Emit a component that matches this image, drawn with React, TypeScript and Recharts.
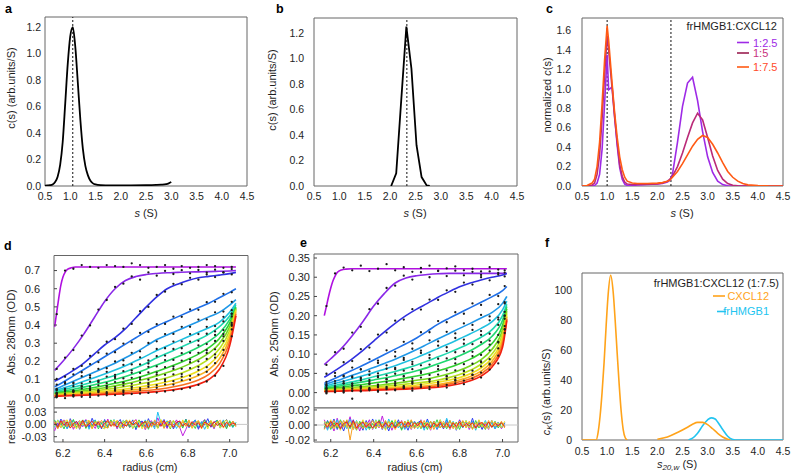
import { ComposedChart, Line, Scatter, XAxis, YAxis, ReferenceArea, ReferenceLine } from "recharts";

const FONT = "'Liberation Sans', Arial, Helvetica, sans-serif";
const INK = "#1e1e1e";
const FRAME = "#666666";

const S_TICKS = [0.5, 1, 1.5, 2, 2.5, 3, 3.5, 4, 4.5];
const RADIUS_TICKS = [6.2, 6.4, 6.6, 6.8, 7.0];

// ---- a: CXCL12 c(s) ----
const A_S = [0.5, 0.55, 0.6, 0.65, 0.7, 0.75, 0.8, 0.85, 0.9, 0.95, 1.0, 1.05, 1.1, 1.15, 1.2, 1.25, 1.3, 1.35, 1.4, 1.45, 1.5, 1.6, 1.8, 2.0, 2.2, 2.5, 2.7, 2.8, 2.9, 2.95, 3.0];
const A_C = [0.003, 0.004, 0.006, 0.012, 0.03, 0.07, 0.16, 0.33, 0.62, 0.92, 1.13, 1.2, 1.05, 0.78, 0.5, 0.28, 0.15, 0.08, 0.04, 0.02, 0.012, 0.007, 0.005, 0.005, 0.005, 0.006, 0.008, 0.01, 0.014, 0.02, 0.03];
const A_PEAK = 1.05;

// ---- b: frHMGB1 c(s) ----
const B_S = [2.02, 2.12, 2.22, 2.32, 2.42, 2.52, 2.62, 2.72, 2.78];
const B_C = [0, 0.1, 0.68, 1.25, 0.92, 0.32, 0.07, 0.005, 0];
const B_PEAK = 2.33;

// ---- c: mixtures, normalized c(s) ----
const C_S = [0.5, 0.6, 0.7, 0.75, 0.8, 0.85, 0.9, 0.95, 1.0, 1.03, 1.1, 1.15, 1.2, 1.25, 1.3, 1.35, 1.4, 1.5, 1.6, 1.8, 2.0, 2.1, 2.2, 2.25, 2.3, 2.4, 2.5, 2.6, 2.7, 2.8, 2.9, 3.0, 3.1, 3.2, 3.3, 3.4, 3.5, 3.6, 3.7, 3.8, 4.0, 4.2, 4.5];
const C_1_25 = [0, 0, 0, 0.005, 0.03, 0.12, 0.38, 0.85, 1.35, 0.99, 1.02, 0.72, 0.42, 0.19, 0.07, 0.02, 0.005, 0.005, 0.01, 0.015, 0.02, 0.025, 0.04, 0.06, 0.12, 0.45, 0.82, 1.06, 1.12, 0.88, 0.56, 0.3, 0.14, 0.05, 0.015, 0.003, 0, 0, 0, 0, 0, 0, 0];
const C_1_5 = [0, 0, 0.01, 0.03, 0.12, 0.32, 0.7, 1.15, 1.55, 1.4, 1.0, 0.7, 0.45, 0.22, 0.1, 0.04, 0.02, 0.015, 0.015, 0.018, 0.022, 0.03, 0.05, 0.07, 0.1, 0.2, 0.34, 0.5, 0.65, 0.75, 0.68, 0.5, 0.31, 0.16, 0.07, 0.025, 0.008, 0.002, 0, 0, 0, 0, 0];
const C_1_75 = [0, 0.005, 0.03, 0.07, 0.2, 0.45, 0.85, 1.3, 1.65, 1.5, 1.05, 0.75, 0.5, 0.3, 0.17, 0.09, 0.05, 0.03, 0.025, 0.025, 0.03, 0.035, 0.05, 0.06, 0.09, 0.15, 0.23, 0.32, 0.41, 0.48, 0.52, 0.5, 0.43, 0.34, 0.24, 0.15, 0.09, 0.05, 0.025, 0.012, 0.004, 0.001, 0];
const C_MARKS = [1.0, 2.27];

// ---- f: multi-signal ck(s) ----
const F_CX_S = [0.5, 0.78, 0.82, 0.86, 0.9, 0.94, 0.98, 1.02, 1.07, 1.12, 1.16, 1.2, 1.24, 1.28, 1.32, 1.36, 1.4, 1.7, 2.0, 2.2, 2.4, 2.6, 2.7, 2.8, 2.9, 3.0, 3.1, 3.2, 3.3, 3.4, 3.45];
const F_CX_V = [0, 0, 5, 16, 32, 52, 76, 97, 110, 99, 80, 58, 37, 19, 7, 1.5, 0, null, 0.5, 2, 5, 8.5, 10.5, 11.8, 11.8, 10.3, 7.5, 4.5, 2, 0.5, 0];
const F_HM_S = [2.62, 2.7, 2.8, 2.9, 3.0, 3.07, 3.15, 3.2, 3.3, 3.4, 3.5, 3.55, 4.5];
const F_HM_V = [0, 1.2, 4.5, 9.5, 13.5, 14.8, 14, 12, 7, 2.5, 0.3, 0, 0];

// ---- d: 280 nm boundaries ----
const RAINBOW = ["#B010E0", "#8A28E8", "#3030E0", "#2070E8", "#2098E8", "#20C0E0", "#20D8B0", "#20D870", "#30D030", "#78D820", "#B8E020", "#F0E020", "#F8B020", "#F87020", "#F02010"];
const D_R_FAST = [6.16, 6.17, 6.18, 6.19, 6.2, 6.21, 6.22, 6.24, 6.26, 6.3, 6.4, 6.5, 6.6, 6.7, 6.8, 6.9, 7.0, 7.03];
const D_R = [6.16, 6.2, 6.25, 6.3, 6.35, 6.4, 6.45, 6.5, 6.55, 6.6, 6.65, 6.7, 6.75, 6.8, 6.85, 6.9, 6.95, 7.0, 7.03];
const D280_1 = [0.39, 0.47, 0.55, 0.62, 0.665, 0.69, 0.705, 0.715, 0.72, 0.72, 0.72, 0.72, 0.72, 0.72, 0.72, 0.72, 0.72, 0.72];
const D280_2 = [0.15, 0.2, 0.27, 0.35, 0.44, 0.53, 0.6, 0.645, 0.667, 0.678, 0.684, 0.688, 0.69, 0.692, 0.693, 0.694, 0.696, 0.698, 0.7];
const D280_3 = [0.09, 0.115, 0.15, 0.19, 0.24, 0.29, 0.33, 0.38, 0.44, 0.5, 0.555, 0.6, 0.625, 0.645, 0.66, 0.668, 0.675, 0.683, 0.69];
const D280_4 = [0.06, 0.085, 0.12, 0.155, 0.19, 0.225, 0.26, 0.295, 0.33, 0.365, 0.395, 0.42, 0.445, 0.47, 0.495, 0.52, 0.55, 0.58, 0.6];
const D280_5 = [0.045, 0.065, 0.09, 0.115, 0.14, 0.165, 0.19, 0.22, 0.25, 0.285, 0.32, 0.345, 0.37, 0.395, 0.42, 0.445, 0.47, 0.51, 0.54];
const D280_6 = [0.038, 0.052, 0.07, 0.09, 0.11, 0.13, 0.152, 0.176, 0.203, 0.23, 0.26, 0.285, 0.31, 0.335, 0.36, 0.385, 0.415, 0.47, 0.52];
const D280_7 = [0.032, 0.043, 0.057, 0.072, 0.088, 0.105, 0.123, 0.143, 0.165, 0.19, 0.22, 0.245, 0.27, 0.295, 0.32, 0.35, 0.39, 0.45, 0.51];
const D280_8 = [0.027, 0.035, 0.046, 0.058, 0.071, 0.085, 0.1, 0.117, 0.136, 0.157, 0.18, 0.202, 0.225, 0.25, 0.278, 0.31, 0.355, 0.43, 0.5];
const D280_9 = [0.023, 0.029, 0.037, 0.046, 0.056, 0.067, 0.079, 0.092, 0.107, 0.125, 0.145, 0.165, 0.187, 0.212, 0.24, 0.275, 0.325, 0.41, 0.495];
const D280_10 = [0.02, 0.025, 0.031, 0.038, 0.046, 0.055, 0.065, 0.076, 0.089, 0.104, 0.12, 0.138, 0.158, 0.182, 0.21, 0.245, 0.297, 0.39, 0.49];
const D280_11 = [0.017, 0.021, 0.026, 0.031, 0.037, 0.044, 0.052, 0.061, 0.071, 0.082, 0.095, 0.11, 0.128, 0.15, 0.177, 0.213, 0.268, 0.37, 0.485];
const D280_12 = [0.014, 0.017, 0.021, 0.025, 0.03, 0.035, 0.041, 0.048, 0.056, 0.065, 0.075, 0.088, 0.103, 0.122, 0.147, 0.182, 0.24, 0.35, 0.48];
const D280_13 = [0.012, 0.014, 0.017, 0.02, 0.024, 0.028, 0.033, 0.038, 0.044, 0.051, 0.06, 0.07, 0.083, 0.1, 0.122, 0.155, 0.212, 0.33, 0.47];
const D280_14 = [0.01, 0.012, 0.014, 0.016, 0.019, 0.022, 0.025, 0.029, 0.034, 0.039, 0.045, 0.053, 0.064, 0.078, 0.097, 0.128, 0.185, 0.31, 0.46];
const D280_15 = [0.008, 0.009, 0.011, 0.013, 0.015, 0.017, 0.019, 0.022, 0.025, 0.029, 0.033, 0.039, 0.047, 0.058, 0.074, 0.1, 0.155, 0.285, 0.45];

const D_DOT_R = [6.17, 6.21, 6.25, 6.29, 6.33, 6.37, 6.41, 6.45, 6.49, 6.53, 6.57, 6.61, 6.65, 6.69, 6.73, 6.77, 6.81, 6.85, 6.89, 6.93, 6.97, 7.01];
const D280_OBS_1 = [0.46, 0.7, 0.71, 0.73, 0.72, 0.715, 0.73, 0.725, 0.72, 0.74, 0.73, 0.715, 0.72, 0.73, 0.71, 0.725, 0.715, 0.72, 0.73, 0.725, 0.715, 0.72];
const D280_OBS_2 = [0.158, 0.22, 0.262, 0.342, 0.398, 0.485, 0.538, 0.61, 0.628, 0.668, 0.65, 0.69, 0.672, 0.698, 0.681, 0.702, 0.685, 0.703, 0.688, 0.705, 0.69, 0.708];
const D280_OBS_3 = [0.103, 0.115, 0.158, 0.175, 0.23, 0.248, 0.308, 0.322, 0.38, 0.406, 0.476, 0.5, 0.566, 0.584, 0.627, 0.624, 0.66, 0.65, 0.678, 0.664, 0.69, 0.679];
const D280_OBS_4 = [0.072, 0.085, 0.128, 0.14, 0.185, 0.196, 0.242, 0.25, 0.298, 0.305, 0.356, 0.362, 0.405, 0.406, 0.446, 0.445, 0.486, 0.484, 0.526, 0.528, 0.572, 0.58];
const D280_OBS_5 = [0.044, 0.077, 0.083, 0.118, 0.122, 0.158, 0.162, 0.199, 0.205, 0.247, 0.255, 0.301, 0.31, 0.35, 0.351, 0.39, 0.39, 0.43, 0.431, 0.47, 0.474, 0.528];
const D280_OBS_6 = [0.048, 0.049, 0.078, 0.079, 0.11, 0.094, 0.142, 0.126, 0.18, 0.183, 0.222, 0.205, 0.268, 0.272, 0.309, 0.31, 0.35, 0.35, 0.39, 0.394, 0.445, 0.482];
const D280_OBS_7 = [0.041, 0.039, 0.063, 0.062, 0.088, 0.089, 0.116, 0.115, 0.146, 0.15, 0.183, 0.188, 0.228, 0.232, 0.268, 0.272, 0.309, 0.313, 0.352, 0.365, 0.42, 0.462];
const D280_OBS_8 = [0.022, 0.043, 0.04, 0.063, 0.06, 0.085, 0.08, 0.108, 0.106, 0.137, 0.136, 0.17, 0.172, 0.207, 0.208, 0.245, 0.247, 0.288, 0.295, 0.345, 0.372, 0.463];
const D280_OBS_9 = [0.018, 0.036, 0.031, 0.05, 0.046, 0.068, 0.064, 0.086, 0.083, 0.109, 0.11, 0.139, 0.138, 0.168, 0.171, 0.204, 0.21, 0.247, 0.261, 0.312, 0.35, 0.447];
const D280_OBS_10 = [0.027, 0.019, 0.037, 0.03, 0.05, 0.042, 0.064, 0.058, 0.081, 0.076, 0.101, 0.099, 0.127, 0.126, 0.158, 0.159, 0.195, 0.2, 0.246, 0.266, 0.338, 0.412];
const D280_OBS_11 = [0.023, 0.016, 0.032, 0.025, 0.041, 0.034, 0.052, 0.046, 0.066, 0.061, 0.083, 0.08, 0.102, 0.1, 0.128, 0.13, 0.163, 0.17, 0.213, 0.238, 0.312, 0.404];
const D280_OBS_12 = [0.009, 0.024, 0.015, 0.03, 0.022, 0.038, 0.03, 0.047, 0.04, 0.058, 0.053, 0.073, 0.069, 0.091, 0.091, 0.116, 0.12, 0.153, 0.168, 0.22, 0.263, 0.396];
const D280_OBS_13 = [0.006, 0.019, 0.011, 0.024, 0.016, 0.03, 0.023, 0.038, 0.031, 0.047, 0.042, 0.06, 0.054, 0.073, 0.072, 0.096, 0.098, 0.127, 0.142, 0.19, 0.233, 0.376];
const D280_OBS_15 = [0.002, -0.003, 0.006, 0.005, 0.003, 0.011, 0.013, 0.014, 0.016, 0.02, 0.022, 0.026, 0.028, 0.034, 0.039, 0.047, 0.055, 0.07, 0.089, 0.12, 0.175, 0.338];

const RES_COLORS = ["#C020E0", "#3040F0", "#20C0F0", "#30D040", "#E8E020", "#F8A020", "#F02020"];
const D_RES_R = [6.16, 6.175, 6.19, 6.205, 6.22, 6.235, 6.25, 6.265, 6.28, 6.295, 6.31, 6.325, 6.34, 6.355, 6.37, 6.385, 6.4, 6.415, 6.43, 6.445, 6.46, 6.475, 6.49, 6.505, 6.52, 6.535, 6.55, 6.565, 6.58, 6.595, 6.61, 6.625, 6.64, 6.655, 6.67, 6.685, 6.7, 6.715, 6.73, 6.745, 6.76, 6.775, 6.79, 6.805, 6.82, 6.835, 6.85, 6.865, 6.88, 6.895, 6.91, 6.925, 6.94, 6.955, 6.97, 6.985, 7.0, 7.015, 7.03];
const D_RES_MAGENTA = [-0.016, 0.004, -0.008, 0.011, -0.003, 0.007, -0.012, 0.002, 0.009, -0.006, 0.012, -0.004, 0.001, -0.01, 0.008, 0.003, -0.007, 0.013, -0.002, 0.006, -0.011, 0.005, -0.004, 0.01, -0.008, 0.002, 0.012, -0.005, 0.007, -0.013, 0.004, 0.009, -0.006, 0.016, -0.003, 0.005, -0.01, 0.008, -0.002, 0.011, -0.007, -0.028, -0.012, 0.006, -0.004, 0.009, -0.009, 0.003, 0.012, -0.006, 0.004, -0.011, 0.008, -0.003, 0.01, -0.008, 0.005, -0.005, 0.002];
const D_RES_BLUE = [0.009, -0.005, 0.013, 0.002, -0.01, 0.014, -0.003, 0.008, -0.012, 0.005, 0.01, -0.008, 0.015, -0.002, 0.007, -0.011, 0.012, -0.006, 0.009, -0.004, 0.003, 0.012, -0.01, 0.006, -0.003, 0.011, -0.013, 0.005, 0.008, -0.006, 0.014, -0.004, 0.007, -0.009, 0.002, 0.012, -0.007, 0.01, -0.011, 0.004, 0.008, -0.005, 0.013, -0.008, 0.003, 0.011, -0.012, 0.006, -0.002, 0.014, -0.007, 0.005, 0.01, -0.009, 0.004, 0.012, -0.006, 0.008, -0.003];
const D_RES_CYAN = [-0.007, 0.011, -0.002, 0.008, -0.011, 0.003, 0.01, -0.008, 0.006, -0.003, 0.009, -0.012, 0.005, 0.011, -0.006, 0.004, -0.009, 0.007, -0.004, 0.012, -0.008, 0.003, 0.01, -0.005, 0.007, -0.01, 0.002, 0.009, -0.006, 0.011, -0.003, 0.006, -0.011, 0.03, 0.004, -0.007, 0.009, -0.002, 0.008, -0.01, 0.005, -0.004, 0.011, -0.008, 0.003, 0.01, -0.006, 0.007, -0.012, 0.004, 0.009, -0.005, 0.006, -0.009, 0.011, -0.003, 0.007, -0.008, 0.005];
const D_RES_GREEN = [0.011, -0.009, 0.005, -0.011, 0.008, -0.003, 0.012, -0.007, 0.002, 0.011, -0.01, 0.006, -0.005, 0.009, -0.011, 0.004, 0.008, -0.009, 0.011, -0.003, 0.007, -0.01, 0.005, 0.01, -0.007, 0.003, -0.009, 0.011, -0.005, 0.008, -0.012, 0.006, 0.002, -0.008, 0.01, -0.004, 0.007, -0.011, 0.009, -0.002, 0.006, -0.009, 0.012, -0.005, 0.004, -0.01, 0.008, -0.003, 0.011, -0.007, 0.005, -0.008, 0.01, -0.004, 0.007, -0.011, 0.009, -0.006, 0.004];
const D_RES_YELLOW = [-0.003, 0.01, -0.008, 0.006, 0.011, -0.009, 0.004, -0.011, 0.009, -0.002, 0.007, 0.01, -0.009, 0.003, 0.008, -0.007, -0.011, 0.01, -0.004, 0.011, 0.002, -0.008, 0.009, -0.005, 0.011, -0.01, 0.004, 0.008, -0.011, 0.005, 0.009, -0.006, 0.003, -0.01, 0.012, -0.004, 0.006, -0.009, 0.01, -0.002, -0.007, 0.011, -0.005, 0.008, -0.01, 0.004, 0.009, -0.008, 0.006, -0.011, 0.01, -0.003, 0.007, -0.009, 0.005, 0.011, -0.006, 0.008, -0.004];
const D_RES_ORANGE = [0.007, -0.011, 0.003, 0.009, -0.006, 0.011, -0.008, 0.001, -0.01, 0.008, -0.004, 0.009, -0.011, 0.007, -0.002, 0.01, -0.006, -0.009, 0.008, -0.005, 0.01, -0.003, -0.009, 0.011, -0.001, 0.007, 0.01, -0.008, 0.004, -0.01, 0.006, -0.007, 0.011, -0.003, 0.008, -0.01, 0.005, 0.009, -0.006, 0.002, -0.009, 0.007, -0.004, 0.011, -0.008, 0.003, 0.009, -0.011, 0.006, -0.002, 0.008, -0.007, 0.004, 0.01, -0.009, 0.005, -0.003, 0.008, -0.006];
const D_RES_RED = [0.004, -0.007, 0.009, -0.003, 0.006, -0.009, 0.002, 0.007, -0.005, 0.01, -0.006, 0.001, 0.008, -0.004, 0.005, -0.008, 0.003, 0.009, -0.005, 0.002, -0.007, 0.006, 0.0, -0.004, 0.008, -0.002, 0.005, -0.006, 0.003, 0.007, -0.008, 0.004, -0.001, 0.006, -0.005, 0.009, -0.003, 0.002, -0.007, 0.005, 0.008, -0.004, 0.003, -0.006, 0.007, -0.002, 0.004, -0.008, 0.006, 0.001, -0.005, 0.007, -0.003, 0.004, -0.006, 0.005, -0.002, 0.003, 0.0];

// ---- e: 250 nm boundaries ----
const E_R_FAST = [6.17, 6.18, 6.19, 6.2, 6.21, 6.22, 6.23, 6.25, 6.27, 6.3, 6.4, 6.5, 6.6, 6.7, 6.8, 6.9, 7.0, 7.02];
const E_R = [6.17, 6.2, 6.25, 6.3, 6.35, 6.4, 6.45, 6.5, 6.55, 6.6, 6.65, 6.7, 6.75, 6.8, 6.85, 6.9, 6.95, 7.0, 7.02];
const E250_1 = [0.2, 0.225, 0.25, 0.272, 0.29, 0.303, 0.312, 0.319, 0.321, 0.322, 0.322, 0.322, 0.322, 0.322, 0.322, 0.322, 0.322, 0.322];
const E250_2 = [0.073, 0.088, 0.115, 0.148, 0.185, 0.225, 0.258, 0.285, 0.298, 0.304, 0.307, 0.309, 0.31, 0.31, 0.31, 0.31, 0.31, 0.31, 0.31];
const E250_3 = [0.04, 0.05, 0.068, 0.088, 0.11, 0.134, 0.158, 0.18, 0.2, 0.217, 0.232, 0.248, 0.262, 0.275, 0.285, 0.293, 0.3, 0.306, 0.31];
const E250_4 = [0.024, 0.032, 0.045, 0.058, 0.071, 0.085, 0.099, 0.113, 0.127, 0.142, 0.16, 0.178, 0.193, 0.207, 0.221, 0.235, 0.249, 0.265, 0.276];
const E250_5 = [0.02, 0.026, 0.035, 0.045, 0.055, 0.065, 0.076, 0.087, 0.099, 0.112, 0.126, 0.14, 0.153, 0.167, 0.18, 0.194, 0.208, 0.232, 0.25];
const E250_6 = [0.016, 0.021, 0.028, 0.036, 0.044, 0.052, 0.061, 0.07, 0.08, 0.091, 0.103, 0.115, 0.127, 0.14, 0.153, 0.167, 0.184, 0.215, 0.238];
const E250_7 = [0.013, 0.017, 0.022, 0.028, 0.034, 0.041, 0.048, 0.055, 0.063, 0.072, 0.082, 0.093, 0.104, 0.116, 0.129, 0.144, 0.163, 0.2, 0.23];
const E250_8 = [0.011, 0.014, 0.018, 0.023, 0.028, 0.033, 0.038, 0.044, 0.05, 0.057, 0.065, 0.075, 0.085, 0.096, 0.109, 0.125, 0.146, 0.188, 0.224];
const E250_9 = [0.009, 0.011, 0.014, 0.018, 0.021, 0.025, 0.029, 0.033, 0.038, 0.043, 0.049, 0.056, 0.065, 0.075, 0.087, 0.103, 0.127, 0.175, 0.218];
const E250_10 = [0.007, 0.009, 0.011, 0.013, 0.016, 0.018, 0.021, 0.024, 0.028, 0.032, 0.036, 0.042, 0.049, 0.058, 0.07, 0.086, 0.112, 0.164, 0.212];
const E250_11 = [0.006, 0.007, 0.009, 0.011, 0.013, 0.015, 0.017, 0.019, 0.022, 0.025, 0.028, 0.033, 0.039, 0.047, 0.058, 0.074, 0.1, 0.154, 0.206];
const E250_12 = [0.005, 0.006, 0.007, 0.009, 0.01, 0.012, 0.013, 0.015, 0.017, 0.02, 0.023, 0.027, 0.032, 0.039, 0.049, 0.064, 0.09, 0.145, 0.2];
const E250_13 = [0.004, 0.005, 0.006, 0.007, 0.008, 0.009, 0.011, 0.012, 0.014, 0.016, 0.018, 0.021, 0.026, 0.033, 0.042, 0.056, 0.081, 0.136, 0.196];
const E250_14 = [0.003, 0.004, 0.005, 0.006, 0.007, 0.008, 0.009, 0.01, 0.011, 0.013, 0.015, 0.018, 0.022, 0.028, 0.036, 0.049, 0.073, 0.127, 0.192];
const E250_15 = [0.003, 0.003, 0.004, 0.005, 0.005, 0.006, 0.007, 0.008, 0.009, 0.01, 0.012, 0.014, 0.018, 0.023, 0.031, 0.043, 0.066, 0.118, 0.188];

const E_DOT_R = [6.18, 6.22, 6.26, 6.3, 6.34, 6.38, 6.42, 6.46, 6.5, 6.54, 6.58, 6.62, 6.66, 6.7, 6.74, 6.78, 6.82, 6.86, 6.9, 6.94, 6.98, 7.01];
const E250_OBS_1 = [0.225, 0.31, 0.325, 0.318, 0.33, 0.316, 0.322, 0.334, 0.318, 0.326, 0.314, 0.324, 0.33, 0.317, 0.323, 0.328, 0.318, 0.322, 0.315, 0.326, 0.32, 0.318];
const E250_OBS_2 = [0.072, 0.105, 0.114, 0.156, 0.171, 0.217, 0.231, 0.272, 0.278, 0.304, 0.294, 0.313, 0.3, 0.316, 0.303, 0.317, 0.305, 0.314, 0.306, 0.315, 0.307, 0.312];
const E250_OBS_3 = [0.049, 0.051, 0.079, 0.082, 0.113, 0.117, 0.151, 0.156, 0.187, 0.19, 0.217, 0.216, 0.242, 0.241, 0.266, 0.262, 0.286, 0.281, 0.3, 0.292, 0.311, 0.302];
const E250_OBS_4 = [0.022, 0.043, 0.042, 0.065, 0.061, 0.087, 0.083, 0.11, 0.106, 0.132, 0.128, 0.157, 0.157, 0.186, 0.183, 0.209, 0.205, 0.232, 0.228, 0.254, 0.251, 0.277];
const E250_OBS_5 = [0.028, 0.024, 0.044, 0.039, 0.06, 0.046, 0.077, 0.071, 0.094, 0.09, 0.114, 0.109, 0.136, 0.133, 0.158, 0.154, 0.18, 0.176, 0.202, 0.198, 0.23, 0.235];
const E250_OBS_6 = [0.012, 0.03, 0.024, 0.042, 0.036, 0.055, 0.043, 0.062, 0.064, 0.085, 0.08, 0.103, 0.098, 0.122, 0.118, 0.142, 0.138, 0.163, 0.16, 0.188, 0.195, 0.232];
const E250_OBS_7 = [0.019, 0.014, 0.029, 0.023, 0.039, 0.033, 0.05, 0.045, 0.061, 0.057, 0.074, 0.071, 0.09, 0.088, 0.108, 0.105, 0.127, 0.126, 0.15, 0.153, 0.19, 0.21];
const E250_OBS_8 = [0.017, 0.01, 0.024, 0.017, 0.032, 0.024, 0.04, 0.035, 0.049, 0.043, 0.061, 0.055, 0.073, 0.069, 0.089, 0.087, 0.107, 0.106, 0.131, 0.135, 0.176, 0.2];
const E250_OBS_9 = [0.005, 0.017, 0.01, 0.023, 0.015, 0.028, 0.021, 0.035, 0.028, 0.042, 0.036, 0.051, 0.046, 0.061, 0.058, 0.076, 0.074, 0.095, 0.098, 0.125, 0.15, 0.2];
const E250_OBS_10 = [0.003, 0.015, 0.006, 0.018, 0.01, 0.022, 0.014, 0.027, 0.019, 0.032, 0.026, 0.039, 0.033, 0.047, 0.042, 0.058, 0.056, 0.075, 0.081, 0.11, 0.132, 0.192];
const E250_OBS_11 = [0.011, 0.003, 0.014, 0.006, 0.017, 0.009, 0.02, 0.012, 0.024, 0.016, 0.029, 0.021, 0.035, 0.028, 0.043, 0.039, 0.057, 0.057, 0.079, 0.087, 0.13, 0.173];
const E250_OBS_12 = [0.009, 0.001, 0.011, 0.004, 0.014, 0.006, 0.016, 0.009, 0.019, 0.012, 0.023, 0.016, 0.028, 0.022, 0.035, 0.031, 0.047, 0.046, 0.068, 0.073, 0.115, 0.165];
const E250_OBS_13 = [0.0, 0.009, 0.002, 0.011, 0.004, 0.012, 0.005, 0.015, 0.008, 0.017, 0.011, 0.02, 0.015, 0.025, 0.02, 0.033, 0.031, 0.047, 0.052, 0.075, 0.096, 0.164];
const E250_OBS_15 = [-0.002, 0.007, 0.0, -0.016, 0.003, 0.009, 0.002, -0.002, 0.006, 0.012, 0.005, 0.014, 0.009, 0.017, 0.013, 0.024, 0.022, 0.037, 0.039, 0.06, 0.076, 0.155];

const E_RES_R = [6.17, 6.185, 6.2, 6.215, 6.23, 6.245, 6.26, 6.275, 6.29, 6.305, 6.32, 6.335, 6.35, 6.365, 6.38, 6.395, 6.41, 6.425, 6.44, 6.455, 6.47, 6.485, 6.5, 6.515, 6.53, 6.545, 6.56, 6.575, 6.59, 6.605, 6.62, 6.635, 6.65, 6.665, 6.68, 6.695, 6.71, 6.725, 6.74, 6.755, 6.77, 6.785, 6.8, 6.815, 6.83, 6.845, 6.86, 6.875, 6.89, 6.905, 6.92, 6.935, 6.95, 6.965, 6.98, 6.995, 7.01];
const E_RES_MAGENTA = [0.007, -0.005, 0.003, -0.008, 0.009, -0.004, 0.006, -0.003, 0.011, -0.006, 0.004, -0.008, 0.005, -0.002, 0.007, -0.006, 0.003, -0.004, 0.012, -0.003, 0.005, -0.007, 0.004, -0.002, 0.006, -0.005, 0.003, -0.006, 0.005, -0.001, 0.007, -0.004, 0.002, -0.007, 0.005, -0.003, 0.006, -0.005, 0.004, -0.006, 0.003, -0.004, 0.007, -0.002, 0.005, -0.006, 0.004, -0.003, 0.006, -0.005, 0.002, -0.006, 0.005, -0.003, 0.004, -0.005, 0.003];
const E_RES_BLUE = [-0.005, 0.006, -0.002, 0.008, -0.006, 0.003, -0.008, 0.005, -0.003, 0.007, -0.005, 0.002, -0.007, 0.006, -0.004, 0.008, -0.002, 0.005, -0.006, 0.003, -0.008, 0.004, -0.003, 0.007, -0.005, 0.002, -0.007, 0.005, -0.004, 0.003, 0.006, -0.004, 0.008, -0.003, 0.005, -0.006, 0.002, -0.005, 0.007, -0.003, 0.004, -0.007, 0.006, -0.002, 0.005, -0.004, 0.009, -0.005, 0.003, -0.006, 0.004, -0.003, 0.006, -0.005, 0.002, -0.004, 0.003];
const E_RES_CYAN = [0.004, -0.007, 0.005, -0.003, 0.007, -0.006, 0.002, -0.005, 0.008, -0.004, 0.006, -0.003, 0.005, -0.007, 0.003, -0.005, 0.007, -0.002, 0.004, -0.006, 0.008, -0.003, 0.005, -0.004, 0.002, -0.006, 0.007, -0.003, 0.005, -0.005, 0.003, -0.007, 0.006, -0.002, 0.004, -0.005, 0.007, -0.004, 0.009, -0.003, 0.005, -0.006, 0.002, -0.004, 0.006, -0.003, 0.005, -0.007, 0.004, -0.002, 0.006, -0.004, 0.003, -0.005, 0.004, -0.003, 0.002];
const E_RES_GREEN = [-0.003, 0.005, -0.006, 0.003, -0.004, 0.007, -0.002, 0.006, -0.005, 0.003, -0.007, 0.005, -0.003, 0.004, -0.006, 0.002, -0.005, 0.007, -0.003, 0.005, -0.004, 0.006, -0.002, 0.004, -0.007, 0.005, -0.003, 0.006, -0.002, 0.004, -0.005, 0.003, -0.006, 0.005, -0.003, 0.007, -0.004, 0.002, -0.005, 0.006, -0.003, 0.004, -0.006, 0.005, -0.002, 0.003, -0.005, 0.006, -0.004, 0.002, -0.006, 0.004, -0.003, 0.005, -0.004, 0.003, -0.002];
const E_RES_YELLOW = [0.005, -0.002, 0.007, -0.005, 0.002, -0.007, 0.006, -0.003, 0.004, -0.006, 0.005, -0.002, 0.007, -0.004, 0.003, -0.005, 0.006, -0.003, 0.002, -0.007, 0.005, -0.004, 0.007, -0.002, 0.005, -0.003, 0.006, -0.005, 0.003, -0.004, 0.006, -0.002, 0.004, -0.006, 0.005, -0.003, 0.007, -0.004, 0.003, -0.005, 0.004, -0.006, 0.005, -0.002, 0.006, -0.004, 0.003, -0.005, 0.007, -0.003, 0.004, -0.005, 0.006, -0.002, 0.003, -0.004, 0.005];
const E_RES_ORANGE = [-0.006, 0.003, -0.004, 0.006, -0.002, 0.005, -0.003, 0.007, -0.02, 0.004, -0.006, 0.002, -0.005, 0.004, -0.002, 0.006, -0.004, 0.003, -0.005, 0.006, -0.003, 0.004, -0.006, 0.002, -0.004, 0.005, -0.002, 0.007, -0.005, 0.003, -0.004, 0.006, -0.003, 0.005, -0.006, 0.002, -0.004, 0.005, -0.003, 0.006, -0.005, 0.003, -0.002, 0.006, -0.004, 0.005, -0.006, 0.003, -0.002, 0.004, -0.005, 0.006, -0.003, 0.004, -0.002, 0.005, -0.004];
const E_RES_RED = [0.002, -0.003, 0.005, -0.002, 0.003, -0.005, 0.002, 0.004, -0.003, 0.006, -0.004, 0.001, 0.004, -0.003, 0.002, -0.004, 0.002, 0.005, -0.003, 0.003, -0.002, 0.003, -0.004, 0.002, 0.004, -0.003, 0.004, -0.002, 0.003, -0.001, 0.005, -0.003, 0.002, -0.004, 0.003, -0.002, 0.004, -0.003, 0.002, -0.004, 0.003, -0.002, 0.004, -0.003, 0.002, -0.001, 0.003, -0.004, 0.002, 0.003, -0.002, 0.004, -0.003, 0.002, -0.001, 0.003, -0.002];

const pts = (xs: number[], ys: (number | null)[]) => xs.map((x, i) => ({ x, y: ys[i] }));

const D_FITS = [
  pts(D_R_FAST, D280_1), pts(D_R, D280_2), pts(D_R, D280_3), pts(D_R, D280_4), pts(D_R, D280_5),
  pts(D_R, D280_6), pts(D_R, D280_7), pts(D_R, D280_8), pts(D_R, D280_9), pts(D_R, D280_10),
  pts(D_R, D280_11), pts(D_R, D280_12), pts(D_R, D280_13), pts(D_R, D280_14), pts(D_R, D280_15),
];
const D_OBS = [
  D280_OBS_1, D280_OBS_2, D280_OBS_3, D280_OBS_4, D280_OBS_5, D280_OBS_6, D280_OBS_7,
  D280_OBS_8, D280_OBS_9, D280_OBS_10, D280_OBS_11, D280_OBS_12, D280_OBS_13, D280_OBS_15,
].flatMap((v) => pts(D_DOT_R, v));
const D_RES = [D_RES_MAGENTA, D_RES_BLUE, D_RES_CYAN, D_RES_GREEN, D_RES_YELLOW, D_RES_ORANGE, D_RES_RED].map((v) => pts(D_RES_R, v));

const E_FITS = [
  pts(E_R_FAST, E250_1), pts(E_R, E250_2), pts(E_R, E250_3), pts(E_R, E250_4), pts(E_R, E250_5),
  pts(E_R, E250_6), pts(E_R, E250_7), pts(E_R, E250_8), pts(E_R, E250_9), pts(E_R, E250_10),
  pts(E_R, E250_11), pts(E_R, E250_12), pts(E_R, E250_13), pts(E_R, E250_14), pts(E_R, E250_15),
];
const E_OBS = [
  E250_OBS_1, E250_OBS_2, E250_OBS_3, E250_OBS_4, E250_OBS_5, E250_OBS_6, E250_OBS_7,
  E250_OBS_8, E250_OBS_9, E250_OBS_10, E250_OBS_11, E250_OBS_12, E250_OBS_13, E250_OBS_15,
].flatMap((v) => pts(E_DOT_R, v));
const E_RES = [E_RES_MAGENTA, E_RES_BLUE, E_RES_CYAN, E_RES_GREEN, E_RES_YELLOW, E_RES_ORANGE, E_RES_RED].map((v) => pts(E_RES_R, v));

interface Geo {
  left: number;
  top: number;
  width: number;
  height: number;
  plotLeft: number;
  plotRight: number;
  plotTop: number;
  plotBottom: number;
}

const GEO_A: Geo = { left: 0, top: 0, width: 260, height: 206, plotLeft: 45, plotRight: 247, plotTop: 17, plotBottom: 186 };
const GEO_B: Geo = { left: 260, top: 0, width: 270, height: 206, plotLeft: 314, plotRight: 517, plotTop: 18, plotBottom: 186 };
const GEO_C: Geo = { left: 520, top: 0, width: 271, height: 206, plotLeft: 582, plotRight: 783, plotTop: 18, plotBottom: 186 };
const GEO_F: Geo = { left: 520, top: 250, width: 271, height: 210, plotLeft: 582, plotRight: 783, plotTop: 273, plotBottom: 440 };
const GEO_D: Geo = { left: 0, top: 240, width: 260, height: 168, plotLeft: 54, plotRight: 248, plotTop: 255.5, plotBottom: 408 };
const GEO_DR: Geo = { left: 0, top: 400, width: 260, height: 62, plotLeft: 54, plotRight: 248, plotTop: 408, plotBottom: 442 };
const GEO_E: Geo = { left: 260, top: 240, width: 270, height: 168, plotLeft: 314, plotRight: 518, plotTop: 254, plotBottom: 408 };
const GEO_ER: Geo = { left: 260, top: 400, width: 270, height: 62, plotLeft: 314, plotRight: 518, plotTop: 408, plotBottom: 442 };

const tickStyle = (size: number) => ({ fontSize: size, fill: INK, fontFamily: FONT });
const f1 = (v: number) => v.toFixed(1);
const f2 = (v: number) => v.toFixed(2);
const f0 = (v: number) => String(v);

function Panel({
  geo, xDomain, yDomain, yTicks, yFmt, xTicks, xFmt, yGap, xGap, inside, hideX, tickSize, children,
}: {
  geo: Geo;
  xDomain: [number, number];
  yDomain: [number, number];
  yTicks: number[];
  yFmt: (v: number) => string;
  xTicks?: number[];
  xFmt?: (v: number) => string;
  yGap: number;
  xGap?: number;
  inside?: boolean;
  hideX?: boolean;
  tickSize: number;
  children: React.ReactNode;
}) {
  const tk = inside ? -3 : 0;
  return (
    <div style={{ position: "absolute", left: geo.left, top: geo.top }}>
      <ComposedChart
        width={geo.width}
        height={geo.height}
        margin={{ top: geo.plotTop - geo.top, right: geo.left + geo.width - geo.plotRight, bottom: 0, left: 0 }}
      >
        <XAxis
          type="number"
          dataKey="x"
          domain={xDomain}
          allowDataOverflow
          ticks={xTicks}
          interval={0}
          tickFormatter={xFmt}
          hide={hideX}
          height={geo.top + geo.height - geo.plotBottom}
          axisLine={false}
          tickLine={inside ? { stroke: "#444" } : false}
          tickSize={tk}
          tickMargin={(xGap ?? 7) - tk}
          tick={tickStyle(tickSize)}
        />
        <YAxis
          type="number"
          dataKey="y"
          domain={yDomain}
          allowDataOverflow
          ticks={yTicks}
          interval={0}
          tickFormatter={yFmt}
          width={geo.plotLeft - geo.left}
          axisLine={false}
          tickLine={inside ? { stroke: "#444" } : false}
          tickSize={tk}
          tickMargin={yGap - tk}
          tick={tickStyle(tickSize)}
        />
        {children}
        <ReferenceArea
          x1={xDomain[0]}
          x2={xDomain[1]}
          y1={yDomain[0]}
          y2={yDomain[1]}
          fill="none"
          fillOpacity={0}
          stroke={FRAME}
          strokeWidth={1}
          ifOverflow="visible"
        />
      </ComposedChart>
    </div>
  );
}

const Dot = (p: any) => (p.cx == null ? <g /> : <circle cx={p.cx} cy={p.cy} r={1.15} fill="#1a1a1a" />);

const D_X: [number, number] = [6.157, 7.088];
const E_X: [number, number] = [6.122, 7.072];

export default function App() {
  return (
    <div style={{ position: "absolute", left: 0, top: 0, width: 791, height: 475, background: "#fff", overflow: "hidden", fontFamily: FONT }}>
      {/* a */}
      <Panel geo={GEO_A} xDomain={[0.5, 4.5]} yDomain={[0, 1.276]} yTicks={[0, 0.2, 0.4, 0.6, 0.8, 1.0, 1.2]} yFmt={f1} xTicks={S_TICKS} xFmt={f1} yGap={4} tickSize={10.5}>
        <ReferenceLine x={A_PEAK} stroke="#111" strokeDasharray="2 2" strokeWidth={1} />
        <Line data={pts(A_S, A_C)} dataKey="y" type="monotone" stroke="#000" strokeWidth={1.8} dot={false} isAnimationActive={false} />
      </Panel>

      {/* b */}
      <Panel geo={GEO_B} xDomain={[0.5, 4.5]} yDomain={[0, 1.318]} yTicks={[0, 0.2, 0.4, 0.6, 0.8, 1.0, 1.2]} yFmt={f1} xTicks={S_TICKS} xFmt={f1} yGap={10} tickSize={10.5}>
        <ReferenceLine x={B_PEAK} stroke="#111" strokeDasharray="2 2" strokeWidth={1} />
        <Line data={pts(B_S, B_C)} dataKey="y" type="linear" stroke="#000" strokeWidth={1.8} dot={false} isAnimationActive={false} />
      </Panel>

      {/* c */}
      <Panel geo={GEO_C} xDomain={[0.5, 4.5]} yDomain={[0, 1.73]} yTicks={[0, 0.2, 0.4, 0.6, 0.8, 1.0, 1.2, 1.4, 1.6]} yFmt={f1} xTicks={S_TICKS} xFmt={f1} yGap={11} tickSize={10.5}>
        {C_MARKS.map((m) => (
          <ReferenceLine key={m} x={m} stroke="#111" strokeDasharray="2 2" strokeWidth={1} />
        ))}
        <Line data={pts(C_S, C_1_25)} dataKey="y" type="linear" stroke="#9E2AE6" strokeWidth={1.6} dot={false} isAnimationActive={false} />
        <Line data={pts(C_S, C_1_5)} dataKey="y" type="linear" stroke="#BA2A78" strokeWidth={1.6} dot={false} isAnimationActive={false} />
        <Line data={pts(C_S, C_1_75)} dataKey="y" type="linear" stroke="#FF5A14" strokeWidth={1.6} dot={false} isAnimationActive={false} />
      </Panel>

      {/* f */}
      <Panel geo={GEO_F} xDomain={[0.5, 4.5]} yDomain={[0, 111.5]} yTicks={[0, 20, 40, 60, 80, 100]} yFmt={f0} xTicks={S_TICKS} xFmt={f1} yGap={10} xGap={8} tickSize={10.5}>
        <Line data={pts(F_HM_S, F_HM_V)} dataKey="y" type="monotone" stroke="#22C4F0" strokeWidth={1.6} dot={false} isAnimationActive={false} />
        <Line data={pts(F_CX_S, F_CX_V)} dataKey="y" type="monotone" stroke="#FFA31A" strokeWidth={1.6} dot={false} isAnimationActive={false} />
      </Panel>

      {/* d */}
      <Panel geo={GEO_D} xDomain={D_X} yDomain={[-0.057, 0.783]} yTicks={[0, 0.1, 0.2, 0.3, 0.4, 0.5, 0.6, 0.7]} yFmt={f1} hideX yGap={14} inside tickSize={11}>
        {D_FITS.map((d, i) => (
          <Line key={i} data={d} dataKey="y" type="monotone" stroke={RAINBOW[i]} strokeWidth={1.6} dot={false} isAnimationActive={false} />
        ))}
        <Scatter data={D_OBS} shape={Dot} isAnimationActive={false} />
      </Panel>
      <Panel geo={GEO_DR} xDomain={D_X} yDomain={[-0.043, 0.04]} yTicks={[-0.03, 0, 0.03]} yFmt={f2} xTicks={RADIUS_TICKS} xFmt={f1} yGap={7.5} xGap={7} inside tickSize={11}>
        <ReferenceLine y={0} stroke="#c8c8c8" strokeWidth={1} />
        {D_RES.map((d, i) => (
          <Line key={i} data={d} dataKey="y" type="linear" stroke={RES_COLORS[i]} strokeWidth={1} dot={false} isAnimationActive={false} />
        ))}
      </Panel>

      {/* e */}
      <Panel geo={GEO_E} xDomain={E_X} yDomain={[-0.04, 0.3604]} yTicks={[0, 0.05, 0.1, 0.15, 0.2, 0.25, 0.3, 0.35]} yFmt={f2} hideX yGap={4} inside tickSize={11}>
        {E_FITS.map((d, i) => (
          <Line key={i} data={d} dataKey="y" type="monotone" stroke={RAINBOW[i]} strokeWidth={1.6} dot={false} isAnimationActive={false} />
        ))}
        <Scatter data={E_OBS} shape={Dot} isAnimationActive={false} />
      </Panel>
      <Panel geo={GEO_ER} xDomain={E_X} yDomain={[-0.0226, 0.0226]} yTicks={[-0.02, 0, 0.02]} yFmt={f2} xTicks={RADIUS_TICKS} xFmt={f1} yGap={4} xGap={7} inside tickSize={11}>
        <ReferenceLine y={0} stroke="#c8c8c8" strokeWidth={1} />
        {E_RES.map((d, i) => (
          <Line key={i} data={d} dataKey="y" type="linear" stroke={RES_COLORS[i]} strokeWidth={1} dot={false} isAnimationActive={false} />
        ))}
      </Panel>

      {/* titles, letters, legends */}
      <svg width={791} height={475} style={{ position: "absolute", left: 0, top: 0, pointerEvents: "none" }} fontFamily={FONT} fill={INK}>
        <g fontSize={12.5} fontWeight="bold" fill="#000">
          <text x={5} y={13}>a</text>
          <text x={276} y={13}>b</text>
          <text x={546} y={13}>c</text>
          <text x={4} y={250}>d</text>
          <text x={300} y={247}>e</text>
          <text x={545} y={247}>f</text>
        </g>
        <g fontSize={11} textAnchor="middle">
          <text transform="translate(15,88) rotate(-90)">c(s) (arb.units/S)</text>
          <text transform="translate(276,90) rotate(-90)">c(s) (arb.units/S)</text>
          <text transform="translate(551,95) rotate(-90)">
            normalized <tspan fontStyle="italic">c</tspan>(s)
          </text>
          <text transform="translate(15,332) rotate(-90)">Abs. 280nm (OD)</text>
          <text transform="translate(15,422) rotate(-90)">residuals</text>
          <text transform="translate(278,334) rotate(-90)">Abs. 250nm (OD)</text>
          <text transform="translate(278,422) rotate(-90)">residuals</text>
          <text transform="translate(550,392) rotate(-90)">
            <tspan fontStyle="italic">c</tspan>
            <tspan fontStyle="italic" fontSize={8} dy={2}>K</tspan>
            <tspan dy={-2}>(s) (arb.units/S)</tspan>
          </text>

          <text x={146} y={217}><tspan fontStyle="italic">s</tspan> (S)</text>
          <text x={415} y={217}><tspan fontStyle="italic">s</tspan> (S)</text>
          <text x={682} y={217}><tspan fontStyle="italic">s</tspan> (S)</text>
          <text x={150} y={471}>radius (cm)</text>
          <text x={415} y={471}>radius (cm)</text>
          <text x={677} y={468}>
            <tspan fontStyle="italic">s</tspan>
            <tspan fontStyle="italic" fontSize={8} dy={2}>20,w</tspan>
            <tspan dy={-2}> (S)</tspan>
          </text>
        </g>

        <g fontSize={11}>
          <text x={777} y={30} textAnchor="end">frHMGB1:CXCL12</text>
          <line x1={737} x2={749} y1={42.5} y2={42.5} stroke="#9E2AE6" strokeWidth={1.6} />
          <text x={753} y={46.5} fill="#9E2AE6">1:2.5</text>
          <line x1={737} x2={749} y1={53} y2={53} stroke="#9A1E50" strokeWidth={1.6} />
          <text x={753} y={57} fill="#C8327E">1:5</text>
          <line x1={737} x2={749} y1={67} y2={67} stroke="#FF5A14" strokeWidth={1.6} />
          <text x={753} y={71} fill="#FF4A2A">1:7.5</text>

          <text x={779} y={287} textAnchor="end">frHMGB1:CXCL12 (1:7.5)</text>
          <line x1={713} x2={725} y1={296} y2={296} stroke="#FFA31A" strokeWidth={1.6} />
          <text x={769} y={300} textAnchor="end" fill="#FFA31A">CXCL12</text>
          <line x1={717} x2={726} y1={311.5} y2={311.5} stroke="#22C4F0" strokeWidth={1.6} />
          <text x={769} y={315} textAnchor="end" fill="#22C4F0">frHMGB1</text>
        </g>
      </svg>
    </div>
  );
}
